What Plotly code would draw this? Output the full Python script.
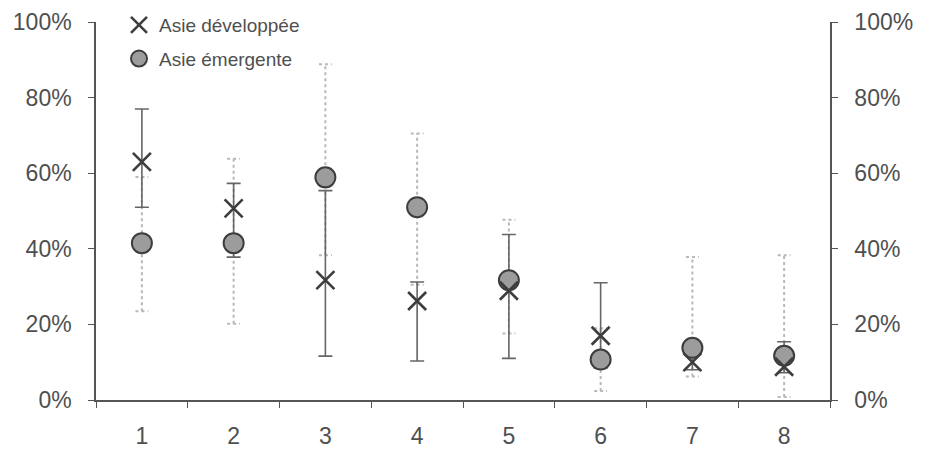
import plotly.graph_objects as go

# Categories on the x axis
categories = [1, 2, 3, 4, 5, 6, 7, 8]

# Asie développée: central value with lower / upper bounds (%)
dev_val = [63.0, 50.7, 31.7, 26.2, 28.9, 17.0, 10.0, 8.8]
dev_low = [51.0, 37.8, 11.6, 10.3, 11.0, 8.5, 8.0, 7.2]
dev_high = [77.0, 57.3, 55.4, 31.2, 43.8, 31.0, 12.0, 15.4]

# Asie émergente: central value with lower / upper bounds (%)
em_val = [41.5, 41.5, 58.9, 51.0, 31.7, 10.7, 13.8, 11.7]
em_low = [23.5, 20.2, 38.3, 30.5, 17.6, 2.4, 6.2, 0.8]
em_high = [59.0, 63.8, 88.8, 70.5, 47.7, 19.0, 37.8, 38.3]

y_ticks = [0, 20, 40, 60, 80, 100]
y_labels = [f"{v}%" for v in y_ticks]

DARK = "#3d3d3d"
AXIS = "#555555"
TEXT = "#4f4f4f"
LIGHT = "#b8b8b8"
FONT = "Liberation Sans, Arial, sans-serif"

fig = go.Figure()

# Dotted range bars for Asie émergente (vertical segment + two caps)
cap = 0.07
bx, by = [], []
for c, lo, hi in zip(categories, em_low, em_high):
    bx += [c, c, None, c - cap, c + cap, None, c - cap, c + cap, None]
    by += [lo, hi, None, lo, lo, None, hi, hi, None]
fig.add_trace(go.Scatter(
    x=bx, y=by, mode="lines",
    line=dict(color=LIGHT, width=2, dash="dot"),
    showlegend=False, hoverinfo="skip",
))

# Solid range bars for Asie développée
fig.add_trace(go.Scatter(
    x=categories, y=dev_val, mode="markers",
    marker=dict(size=1, opacity=0),
    error_y=dict(
        type="data", symmetric=False,
        array=[h - v for h, v in zip(dev_high, dev_val)],
        arrayminus=[v - l for v, l in zip(dev_val, dev_low)],
        color="#666666", thickness=1.6, width=7,
    ),
    showlegend=False, hoverinfo="skip",
))

# Asie émergente markers
fig.add_trace(go.Scatter(
    x=categories, y=em_val, mode="markers", name="Asie émergente",
    marker=dict(symbol="circle", size=20, color="#9c9c9c",
                line=dict(color=DARK, width=2)),
    legendgroup="b", legendrank=2,
))

# Asie développée markers
fig.add_trace(go.Scatter(
    x=categories, y=dev_val, mode="markers", name="Asie développée",
    marker=dict(symbol="x-thin-open", size=18, color=DARK,
                line=dict(color=DARK, width=2.6)),
    legendgroup="a", legendrank=1,
))

# Right-hand axis copy
fig.add_trace(go.Scatter(
    x=[categories[0]], y=[0], yaxis="y2", mode="markers",
    marker=dict(size=1, opacity=0), showlegend=False, hoverinfo="skip",
))

axis_common = dict(
    range=[0, 100], tickvals=y_ticks, ticktext=y_labels,
    showline=True, linecolor=AXIS, linewidth=1.5,
    ticks="outside", ticklen=6, tickcolor=AXIS, tickwidth=1.2,
    showgrid=False, zeroline=False, automargin=False,
    tickfont=dict(family=FONT, size=23, color=TEXT),
)

fig.update_layout(
    width=925, height=450,
    margin=dict(l=96, r=95, t=22, b=50, autoexpand=False),
    paper_bgcolor="white", plot_bgcolor="white",
    font=dict(family=FONT, color=TEXT),
    xaxis=dict(
        range=[0.5, 8.5], tickvals=categories,
        ticktext=[str(c) for c in categories],
        ticks="", showline=True, linecolor=AXIS, linewidth=1.5,
        showgrid=False, zeroline=False, automargin=False,
        tickfont=dict(family=FONT, size=23, color=TEXT),
        minor=dict(ticks="outside", tick0=0.5, dtick=1, ticklen=6,
                   tickcolor=AXIS, tickwidth=1.2, showgrid=False),
        ticklabelstandoff=15,
    ),
    yaxis=dict(**axis_common, side="left", ticklabelstandoff=12),
    yaxis2=dict(**axis_common, side="right", overlaying="y",
                ticklabelstandoff=12),
    legend=dict(
        xref="container", yref="container",
        x=119 / 925, y=1 - 6 / 450, xanchor="left", yanchor="top",
        bgcolor="rgba(0,0,0,0)", tracegroupgap=6,
        font=dict(family=FONT, size=19, color=TEXT),
        itemwidth=30,
    ),
    showlegend=True,
)

fig.write_html("out.html")
